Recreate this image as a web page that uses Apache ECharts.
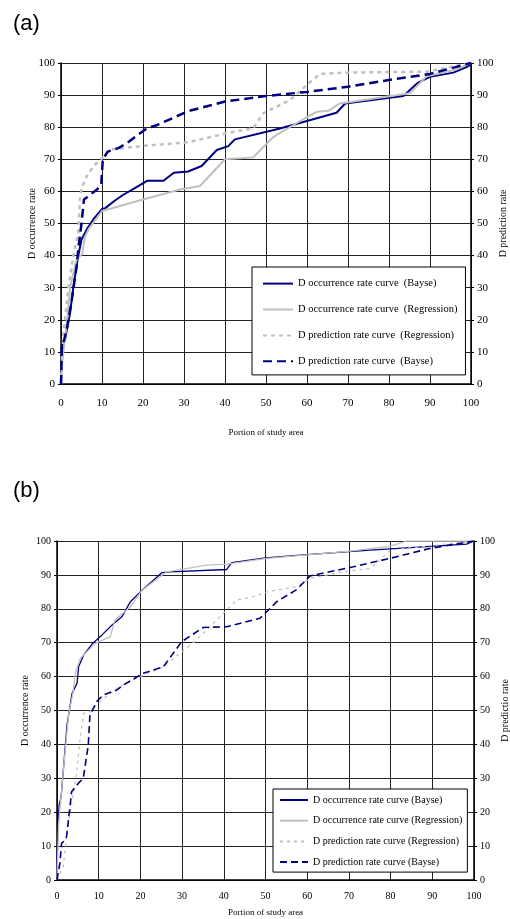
<!DOCTYPE html>
<html>
<head>
    <meta charset="utf-8" />
    <script src="https://cdn.jsdelivr.net/npm/echarts@6/dist/echarts.min.js"></script>
    <style>
        body { margin: 0; background: #fff; }
    </style>
</head>
<body>
    <div id="main" style="width:510px;height:919px;"></div>
    <script>
        // (a) curves, [portion of study area, rate]
        var aOccBayes = [[0,0],[0.3,11.5],[1,14],[2.2,22],[3,30],[4,38.5],[5,45],[6.4,48.4],[8,51.5],[10,54.5],[10.8,54.8],[13,57],[15,58.8],[18,61],[21,63.3],[25,63.3],[27.5,65.8],[31,66.2],[34.3,67.9],[38,72.9],[40.8,74.1],[42.4,76.2],[53.4,79.6],[67.2,84.5],[69.3,87.4],[83.5,89.7],[87.1,93.9],[90,95.7],[95.7,97],[99.3,99],[100,99.5]];
        var aOccReg = [[0,0],[0.3,7],[1.5,20],[2.2,30],[3.7,38.5],[5.2,40.6],[5.8,45.8],[6.8,48.4],[10,53.9],[20,57.5],[29,60.6],[33.9,61.7],[40,70],[46.9,70.6],[51.4,76.5],[52.6,77.6],[59.9,83.1],[62.4,84.8],[65.2,85.1],[68,87.4],[85.1,90.6],[89.2,95.9],[96.5,98],[100,100]];
        var aPredReg = [[0,0],[0.2,6.5],[0.6,16],[1.8,30],[3,40],[4.2,47],[4.6,57.3],[5,61],[6.4,65],[8,68],[10,70.3],[11.8,73],[20,74.2],[31,75.3],[40.4,78.1],[46.9,79.7],[49.3,84.3],[55.9,88.5],[59.9,93.1],[63.2,96.6],[69.7,97],[89.2,97.3],[100,100]];
        var aPredBayes = [[0,0],[0.2,11],[1.4,17],[2.6,26],[3.8,36.5],[4.3,43],[5,50],[5.6,57.5],[8.7,60.5],[9.8,62],[10.2,70],[11.4,72.4],[14,73.5],[16,75],[21,79.7],[23.5,80.7],[31,85],[40,88],[50,89.7],[60,91],[70,92.6],[80,94.7],[90,96.6],[100,100]];

        // (b) curves
        var bOccBayes = [[0,0],[0.1,10],[0.5,22],[1,24.6],[2.4,45.7],[3.6,55],[4.8,58],[5.2,63],[6.4,66.4],[8.4,69.6],[10.8,72.3],[13.2,75.2],[15.6,77.7],[17.6,82.1],[20,85],[25.2,90.7],[27.1,90.9],[40.7,91.6],[41.9,93.6],[50,95],[59.1,95.9],[75.1,97.3],[98.2,99.1],[100,100]];
        var bOccReg = [[0,0],[0.4,16.7],[1.6,33.4],[2.8,49],[3.8,55],[4.4,61],[5.6,65.4],[9.2,69.8],[12.8,71.8],[13.9,76.7],[17.6,80.6],[20.4,85.5],[26.3,90.9],[35.9,92.9],[40.7,93.2],[50.3,94.9],[70.3,97],[79.9,98.5],[83.9,100],[100,100]];
        var bPredReg = [[0,0],[1.5,3.9],[2.5,15],[4.7,31.5],[5.5,41.3],[6.4,49.2],[7.6,49.4],[10.8,53.1],[14.8,57],[19.9,60],[25.5,62.9],[33.5,70.8],[39.1,77.7],[43.1,82.6],[47.1,83.6],[50.3,85],[57.5,86.5],[60.7,89],[68.7,90.9],[75.1,91.9],[79.9,97.3],[91,98.8],[100,100]];
        var bPredBayes = [[0,0],[0.7,5],[1.1,10.8],[1.7,11.5],[2.3,12.8],[3.5,26],[5.1,28.5],[6.3,30],[7.5,39.8],[7.9,48.7],[9.5,52.6],[11.1,54.6],[14.3,56],[15.9,57.5],[20.7,61],[25.5,62.9],[29.9,70.3],[35.1,74.5],[40.7,74.7],[48.7,77.2],[52.7,82.1],[57.5,85.7],[60.7,89.7],[71.1,92.4],[79.9,94.9],[89.4,97.8],[100,100]];

        var namesA = ['D occurrence rate curve  (Bayse)', 'D occurrence rate curve  (Regression)',
            'D prediction rate curve  (Regression)', 'D prediction rate curve  (Bayse)'];
        var namesB = ['D occurrence rate curve (Bayse)', 'D occurrence rate curve (Regression)',
            'D prediction rate curve (Regression)', 'D prediction rate curve (Bayse)'];

        var navy = '#000080';
        var grey = '#c0c0c0';
        var serif = 'Liberation Serif';

        var myChart = echarts.init(document.getElementById('main'));

        function xAx(idx, gap, size, margin) {
            return {
                type: 'value', gridIndex: idx, min: 0, max: 100, interval: 10,
                name: 'Portion of study area', nameLocation: 'middle', nameGap: gap,
                nameMoveOverlap: false,
                nameTextStyle: { fontFamily: serif, fontSize: 9, color: '#000' },
                axisLine: { lineStyle: { color: '#000', width: 1.5 } },
                axisTick: { show: false },
                axisLabel: { fontFamily: serif, fontSize: size, color: '#000', margin: margin },
                splitLine: { show: true, lineStyle: { color: '#222', width: 1 } }
            };
        }

        function yAx(idx, pos, name, gap, size) {
            return {
                type: 'value', gridIndex: idx, position: pos, min: 0, max: 100, interval: 10,
                name: name, nameLocation: 'middle', nameRotate: 90, nameGap: gap,
                nameMoveOverlap: false,
                nameTextStyle: { fontFamily: serif, fontSize: 10, color: '#000' },
                axisLine: { show: true, lineStyle: { color: '#000', width: 1.5 } },
                axisTick: { show: true, length: 3, lineStyle: { color: '#000' } },
                axisLabel: { fontFamily: serif, fontSize: size, color: '#000', margin: 6 },
                splitLine: { show: pos === 'left', lineStyle: { color: '#222', width: 1 } }
            };
        }

        function line(name, data, xi, yi, color, w, type) {
            return {
                name: name, type: 'line', xAxisIndex: xi, yAxisIndex: yi, data: data,
                symbol: 'none', animation: false,
                lineStyle: { color: color, width: w, type: type },
                itemStyle: { color: color }
            };
        }

        var option = {
            backgroundColor: '#fff',
            title: [
                { text: '(a)', left: 8, top: 8, textStyle: { fontFamily: 'Liberation Sans', fontSize: 22, fontWeight: 'normal', color: '#000' } },
                { text: '(b)', left: 8, top: 475, textStyle: { fontFamily: 'Liberation Sans', fontSize: 22, fontWeight: 'normal', color: '#000' } }
            ],
            grid: [
                { left: 61, top: 63, width: 410, height: 321, outerBoundsMode: 'none' },
                { left: 57, top: 541, width: 417, height: 339, outerBoundsMode: 'none' }
            ],
            xAxis: [xAx(0, 44, 11, 14), xAx(1, 28, 10, 11)],
            yAxis: [
                yAx(0, 'left', 'D occurrence rate', 24, 11),
                yAx(0, 'right', 'D prediction rate', 27, 11),
                yAx(1, 'left', 'D occurrence rate', 27, 10),
                yAx(1, 'right', 'D predictio rate', 26, 10)
            ],
            legend: [
                {
                    data: namesA, orient: 'vertical', left: 252, top: 267,
                    padding: [11, 8, 8, 10], itemGap: 14.7, itemWidth: 30, itemHeight: 14,
                    borderColor: '#000', borderWidth: 1, backgroundColor: '#fff',
                    itemStyle: { opacity: 0 },
                    textStyle: { fontFamily: serif, fontSize: 10.5, color: '#000' },
                    selectedMode: false
                },
                {
                    data: namesB, orient: 'vertical', left: 273, top: 789,
                    padding: [6, 5, 5, 6], itemGap: 10.7, itemWidth: 28, itemHeight: 10,
                    borderColor: '#000', borderWidth: 1, backgroundColor: '#fff',
                    itemStyle: { opacity: 0 },
                    textStyle: { fontFamily: serif, fontSize: 10, color: '#000' },
                    selectedMode: false
                }
            ],
            series: [
                line(namesA[0], aOccBayes, 0, 0, navy, 2, 'solid'),
                line(namesA[1], aOccReg, 0, 0, grey, 2, 'solid'),
                line(namesA[2], aPredReg, 0, 0, grey, 2.5, [4, 4]),
                line(namesA[3], aPredBayes, 0, 0, navy, 2.5, [9, 5]),
                line(namesB[0], bOccBayes, 1, 2, navy, 1.3, 'solid'),
                line(namesB[1], bOccReg, 1, 2, grey, 1.3, 'solid'),
                line(namesB[2], bPredReg, 1, 2, grey, 1.3, [3, 4]),
                line(namesB[3], bPredBayes, 1, 2, navy, 1.6, [7, 4])
            ]
        };

        myChart.setOption(option);
    </script>
</body>
</html>
